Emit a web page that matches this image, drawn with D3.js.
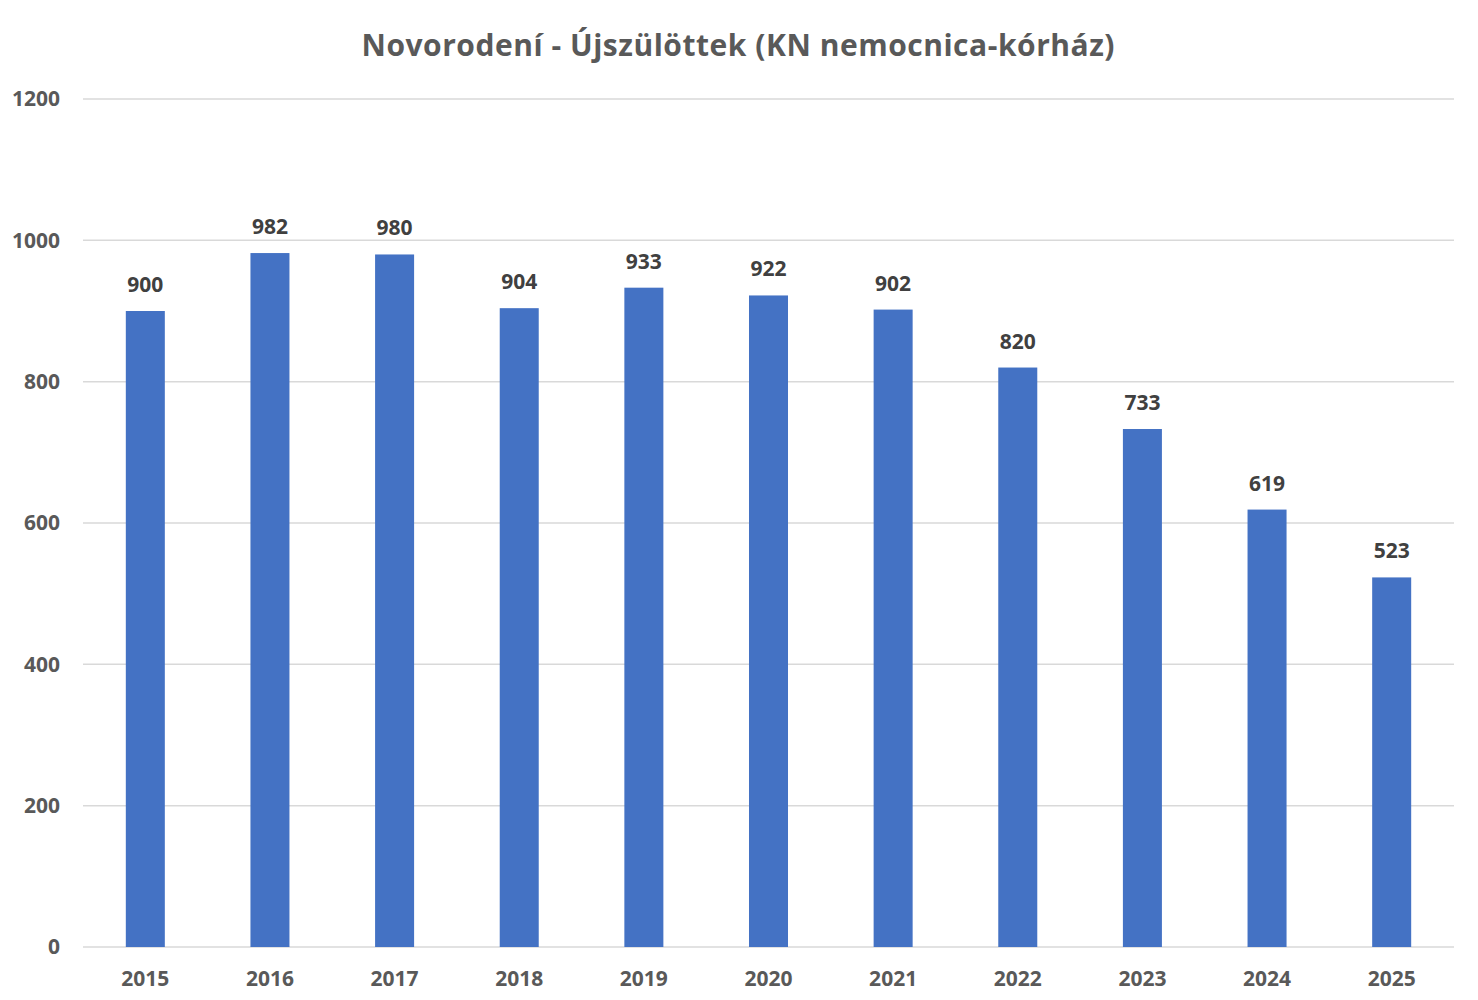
<!DOCTYPE html>
<html>
<head>
<meta charset="utf-8">
<script src="https://cdn.jsdelivr.net/npm/d3@7"></script>
<style>
  body { margin: 0; background: #fff; }
  text { font-family: "Open Sans", Lato, sans-serif; font-weight: bold; }
</style>
</head>
<body>
<div id="chart"></div>
<script>

// chart data

var years = ["2015", "2016", "2017", "2018", "2019", "2020", "2021", "2022", "2023", "2024", "2025"];
var births = [900, 982, 980, 904, 933, 922, 902, 820, 733, 619, 523];
var yTicks = [0, 200, 400, 600, 800, 1000, 1200];
var chartTitle = "Novorodení - Újszülöttek (KN nemocnica-kórház)";

// size of drawing

var svgWidth = 1478;
var svgHeight = 1000;

var margin = { top: 99, right: 24, bottom: 53, left: 83 };

var width = svgWidth - margin.left - margin.right;
var height = svgHeight - margin.top - margin.bottom;

var svg = d3.select("#chart")
	.append("svg")
	.attr("width", svgWidth)
	.attr("height", svgHeight);

var chartGroup = svg.append("g")
	.attr("transform", `translate(${margin.left}, ${margin.top})`);

// scales

var gap = 0.687;

var xBandScale = d3.scaleBand()
	.domain(years)
	.range([0, width])
	.paddingInner(gap)
	.paddingOuter(gap / 2);

var yLinearScale = d3.scaleLinear()
	.domain([0, 1200])
	.range([height, 0]);

// gridlines

chartGroup.append("g")
	.selectAll("line")
	.data(yTicks)
	.enter()
	.append("line")
	.attr("x1", 0)
	.attr("x2", width)
	.attr("y1", d => yLinearScale(d))
	.attr("y2", d => yLinearScale(d))
	.attr("stroke", "#d9d9d9")
	.attr("stroke-width", 1.5);

// y axis labels

var leftAxis = d3.axisLeft(yLinearScale)
	.tickValues(yTicks)
	.tickFormat(d3.format("d"))
	.tickSize(0)
	.tickPadding(23);

chartGroup.append("g")
	.call(leftAxis)
	.call(g => g.select(".domain").remove())
	.selectAll("text")
	.attr("fill", "#595959")
	.style("font-size", "21px");

// bars

chartGroup.selectAll("rect")
	.data(births)
	.enter()
	.append("rect")
	.attr("x", (d, i) => xBandScale(years[i]))
	.attr("y", d => yLinearScale(d))
	.attr("width", xBandScale.bandwidth())
	.attr("height", d => height - yLinearScale(d))
	.attr("fill", "#4472c4");

// value labels above bars

chartGroup.selectAll(".valueText")
	.data(births)
	.enter()
	.append("text")
	.attr("class", "valueText")
	.attr("x", (d, i) => xBandScale(years[i]) + xBandScale.bandwidth() / 2)
	.attr("y", d => yLinearScale(d) - 19)
	.attr("text-anchor", "middle")
	.attr("fill", "#404040")
	.style("font-size", "21px")
	.text(d => d);

// x axis labels

var bottomAxis = d3.axisBottom(xBandScale)
	.tickSize(0)
	.tickPadding(24);

chartGroup.append("g")
	.attr("transform", `translate(0, ${height})`)
	.call(bottomAxis)
	.call(g => g.select(".domain").remove())
	.selectAll("text")
	.attr("fill", "#595959")
	.style("font-size", "21px");

// title

svg.append("text")
	.attr("x", 738)
	.attr("y", 56)
	.attr("text-anchor", "middle")
	.attr("fill", "#595959")
	.style("font-size", "30px")
	.attr("textLength", 753)
	.attr("lengthAdjust", "spacing")
	.text(chartTitle);

</script>
</body>
</html>
